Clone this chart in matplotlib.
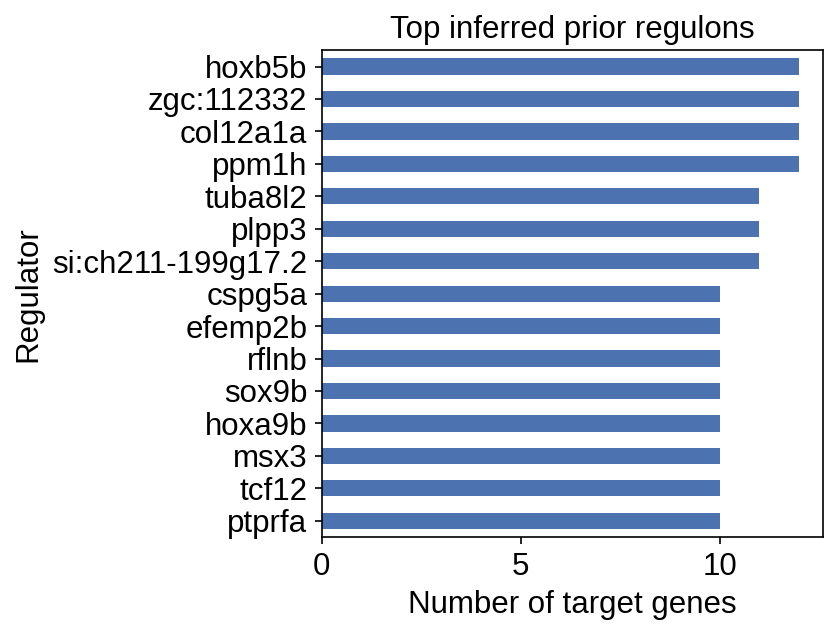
import numpy as np
import matplotlib
matplotlib.use("Agg")
import matplotlib.pyplot as plt

plt.rcParams['font.family'] = ['Liberation Sans', 'DejaVu Sans']
plt.rcParams['font.size'] = 15

# regulators listed bottom -> top
regulators = ['ptprfa', 'tcf12', 'msx3', 'hoxa9b', 'sox9b', 'rflnb', 'efemp2b',
              'cspg5a', 'si:ch211-199g17.2', 'plpp3', 'tuba8l2', 'ppm1h',
              'col12a1a', 'zgc:112332', 'hoxb5b']
n_targets = [10, 10, 10, 10, 10, 10, 10, 10, 11, 11, 11, 12, 12, 12, 12]

fig = plt.figure(figsize=(838 / 150, 637 / 150), dpi=150)
ax = fig.add_axes([0.384, 0.157, 0.598, 0.764])

pos = np.arange(len(regulators))
ax.barh(pos, n_targets, height=0.5, color='#4c72b0')
ax.set_yticks(pos)
ax.set_yticklabels(regulators)
ax.set_ylim(-0.5, len(regulators) - 0.5)
ax.set_xticks([0, 5, 10])
ax.set_xlabel('Number of target genes')
ax.set_ylabel('Regulator')
ax.set_title('Top inferred prior regulons', fontsize=15)

fig.savefig('out.png', dpi=150)
